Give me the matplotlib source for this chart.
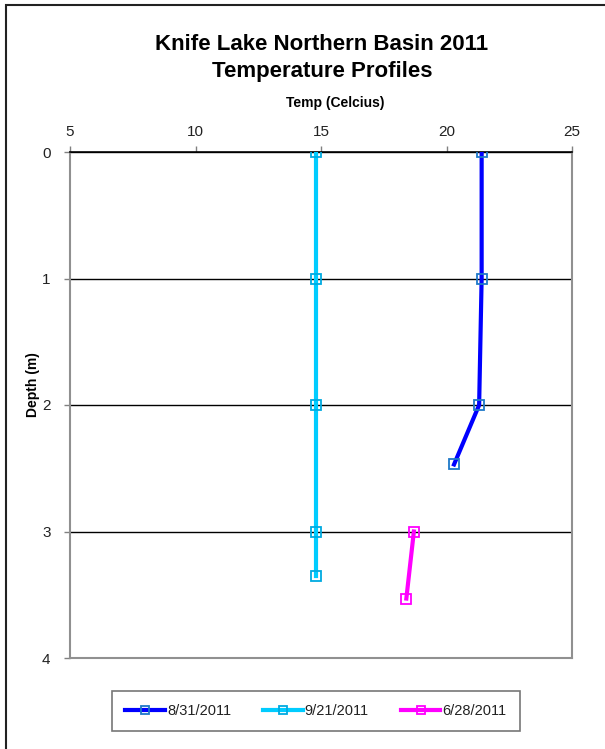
import matplotlib.pyplot as plt
from matplotlib.patches import Rectangle

plt.rcParams['font.family'] = ['Liberation Sans', 'DejaVu Sans']

# Temperature profiles (temp in Celsius, depth in m)
temp_0831 = [21.4, 21.4, 21.3, 20.3]
depth_0831 = [0, 1, 2, 2.47]
temp_0921 = [14.8, 14.8, 14.8, 14.8, 14.8]
depth_0921 = [0, 1, 2, 3, 3.35]
temp_0628 = [18.7, 18.4]
depth_0628 = [3.0, 3.53]

x_ticks = [5, 10, 15, 20, 25]
y_ticks = [0, 1, 2, 3, 4]

fig = plt.figure(figsize=(6.05, 7.49), dpi=100)
ax = fig.add_axes([70 / 605, 1 - 658 / 749, 502 / 605, 506 / 749])

ax.plot(temp_0831, depth_0831, '-', color='#0000FF', lw=3, marker='s', ms=7,
        mfc='none', mec='#1E78C8', mew=1.3, label='8/31/2011', zorder=3)
ax.plot(temp_0921, depth_0921, '-', color='#00CCFF', lw=3, marker='s', ms=7,
        mfc='none', mec='#00AAE0', mew=1.3, label='9/21/2011', zorder=3)
ax.plot(temp_0628, depth_0628, '-', color='#FF00FF', lw=3, marker='s', ms=7,
        mfc='none', mec='#FF00FF', mew=1.3, label='6/28/2011', zorder=3)

ax.set_xlim(5, 25)
ax.set_ylim(4, 0)
ax.set_xticks(x_ticks)
ax.set_yticks(y_ticks)
ax.xaxis.tick_top()
ax.tick_params(axis='both', direction='out', length=4, width=1, color='#808080',
               labelsize=11, labelcolor='#222222')
ax.tick_params(axis='x', pad=5)
ax.tick_params(axis='y', pad=10)
ax.grid(axis='y', color='black', lw=1)
for s in ax.spines.values():
    s.set_color('#909090')
    s.set_linewidth(1.5)
ax.spines['top'].set_color('black')
ax.spines['top'].set_linewidth(1.2)

# titles
fig.text(322 / 605, 1 - 45 / 749, "Knife Lake Northern Basin 2011",
         ha='center', va='center', fontsize=16, fontweight='bold')
fig.text(322 / 605, 1 - 72 / 749, "Temperature Profiles",
         ha='center', va='center', fontsize=16, fontweight='bold')
fig.text(335 / 605, 1 - 103 / 749, "Temp (Celcius)", ha='center', va='center',
         fontsize=10, fontweight='bold')
fig.text(33 / 605, 1 - 385 / 749, "Depth (m)", ha='center', va='center',
         fontsize=10, fontweight='bold', rotation=90)

leg = fig.legend(loc='center', bbox_to_anchor=(316 / 605, 1 - 711 / 749), ncol=3,
                 frameon=True, fancybox=False, fontsize=10.5, handlelength=2.7,
                 columnspacing=2.2, borderpad=0.9, handletextpad=0.15,
                 markerscale=0.85)
leg.get_frame().set_edgecolor('#555555')
leg.get_frame().set_linewidth(1.2)
for t in leg.get_texts():
    t.set_color('#222222')

# outer chart border
fig.patches.append(Rectangle((6 / 605, -0.1), 1.2, 1 - 5 / 749 + 0.1,
                             transform=fig.transFigure, fill=False,
                             edgecolor='#222222', lw=1.5))

fig.savefig('out.png', dpi=100)
